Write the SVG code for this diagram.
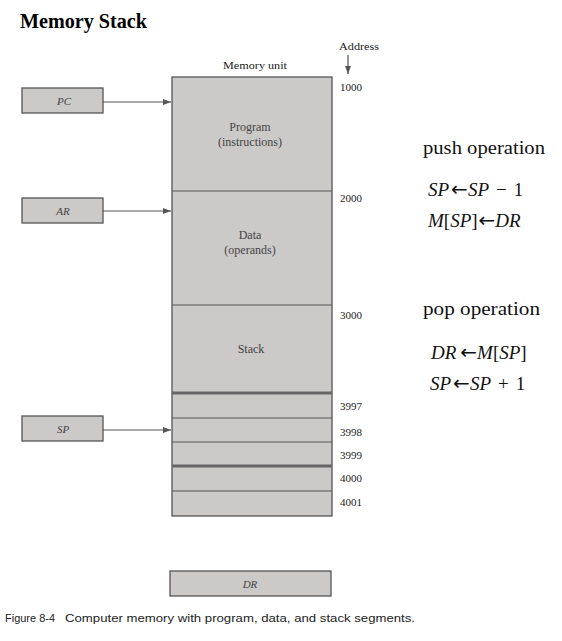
<svg xmlns="http://www.w3.org/2000/svg" width="562" height="641" viewBox="0 0 562 641">
<style>
.box{fill:#ccc9c9;stroke:#555;stroke-width:1.3}
.sep{stroke:#555;stroke-width:1.2}
.thick{stroke:#666;stroke-width:3}
.lbl{font-family:"Liberation Serif",serif;font-size:11px;fill:#222}
.reg{font-family:"Liberation Serif",serif;font-style:italic;font-size:11px;fill:#444}
.seg{font-family:"Liberation Serif",serif;font-size:12px;fill:#444;text-anchor:middle}
.op{font-family:"Liberation Serif",serif;font-size:19px;fill:#111}
.eq{font-family:"Liberation Serif",serif;font-style:italic;font-size:19px;fill:#111}
.n{font-style:normal}
.arr{font-family:"DejaVu Sans",sans-serif;font-style:normal;font-size:20px}
.cap{font-family:"Liberation Sans",sans-serif;font-size:10.5px;fill:#222}
.conn{stroke:#555;stroke-width:1.2;fill:none}
</style>
<defs>
<marker id="ah" markerWidth="8" markerHeight="6" refX="8" refY="3" orient="auto" markerUnits="userSpaceOnUse">
<path d="M0,0 L8,3 L0,6 z" fill="#555"/>
</marker>
</defs>
<rect width="562" height="641" fill="#fff"/>
<text x="20" y="28" font-family="Liberation Serif,serif" font-weight="bold" font-size="20" fill="#000" textLength="127" lengthAdjust="spacingAndGlyphs">Memory Stack</text>
<g id="memory">
<rect class="box" x="172" y="77" width="160" height="439"/>
<line class="sep" x1="172" y1="191" x2="332" y2="191"/>
<line class="sep" x1="172" y1="305" x2="332" y2="305"/>
<line class="thick" x1="172" y1="393" x2="332" y2="393"/>
<line class="sep" x1="172" y1="418" x2="332" y2="418"/>
<line class="sep" x1="172" y1="442" x2="332" y2="442"/>
<line class="thick" x1="172" y1="466" x2="332" y2="466"/>
<line class="sep" x1="172" y1="491" x2="332" y2="491"/>
<text class="seg" x="250" y="131">Program</text>
<text class="seg" x="250" y="146">(instructions)</text>
<text class="seg" x="250" y="239">Data</text>
<text class="seg" x="250" y="254">(operands)</text>
<text class="seg" x="251" y="353">Stack</text>
<text class="lbl" x="223" y="69" textLength="64" lengthAdjust="spacingAndGlyphs">Memory unit</text>
</g>
<g id="addresses">
<text class="lbl" x="339" y="50" textLength="40" lengthAdjust="spacingAndGlyphs">Address</text>
<text class="lbl" x="340" y="91">1000</text>
<text class="lbl" x="340" y="202">2000</text>
<text class="lbl" x="340" y="319">3000</text>
<text class="lbl" x="340" y="410">3997</text>
<text class="lbl" x="340" y="436">3998</text>
<text class="lbl" x="340" y="459">3999</text>
<text class="lbl" x="340" y="482">4000</text>
<text class="lbl" x="340" y="506">4001</text>
</g>
<g id="pc"><rect class="box" x="22" y="88" width="81" height="25"/><text class="reg" x="64" y="105" text-anchor="middle">PC</text></g>
<g id="ar"><rect class="box" x="22" y="198" width="81" height="25"/><text class="reg" x="63" y="215" text-anchor="middle">AR</text></g>
<g id="sp"><rect class="box" x="22" y="416" width="81" height="25"/><text class="reg" x="63" y="433" text-anchor="middle">SP</text></g>
<g id="dr"><rect class="box" x="170" y="571" width="161" height="25"/><text class="reg" x="250" y="588" text-anchor="middle">DR</text></g>
<g id="connectors">
<line class="conn" x1="103" y1="102" x2="171" y2="102" marker-end="url(#ah)"/>
<line class="conn" x1="103" y1="211" x2="171" y2="211" marker-end="url(#ah)"/>
<line class="conn" x1="103" y1="430" x2="171" y2="430" marker-end="url(#ah)"/>
<line class="conn" x1="348" y1="55" x2="348" y2="74" marker-end="url(#ah)"/>
</g>
<g id="ops">
<text class="op" x="423" y="154" textLength="122" lengthAdjust="spacingAndGlyphs">push operation</text>
<text class="eq" x="428" y="196">SP<tspan class="arr" dx="2">←</tspan>SP<tspan class="n" dx="7">−</tspan><tspan class="n" dx="7">1</tspan></text>
<text class="eq" x="428" y="227">M<tspan class="n">[</tspan>SP<tspan class="n">]</tspan><tspan class="arr" dx="1">←</tspan>DR</text>
<text class="op" x="423" y="315" textLength="117" lengthAdjust="spacingAndGlyphs">pop operation</text>
<text class="eq" x="431" y="359">DR<tspan class="arr" dx="4">←</tspan>M<tspan class="n">[</tspan>SP<tspan class="n">]</tspan></text>
<text class="eq" x="430" y="390">SP<tspan class="arr" dx="2">←</tspan>SP<tspan class="n" dx="7">+</tspan><tspan class="n" dx="7">1</tspan></text>
</g>
<g id="caption">
<text class="cap" x="5" y="622" textLength="50" lengthAdjust="spacingAndGlyphs">Figure 8-4</text>
<text class="cap" x="65" y="622" textLength="350" lengthAdjust="spacingAndGlyphs">Computer memory with program, data, and stack segments.</text>
</g>
</svg>
